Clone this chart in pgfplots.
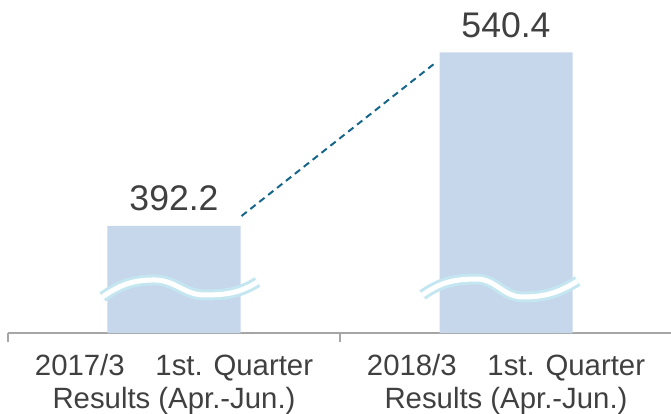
\documentclass[border=0pt]{standalone}
\usepackage{fontspec}
\setmainfont{Liberation Sans}
\usepackage{pgfplots}
\pgfplotsset{compat=1.18}
\definecolor{barblue}{RGB}{198,214,235}
\definecolor{wavecyan}{RGB}{196,230,241}
\definecolor{linkteal}{RGB}{22,102,140}
\definecolor{axisgray}{RGB}{166,166,166}
\definecolor{textgray}{RGB}{64,64,64}
\begin{document}
\begin{tikzpicture}
% page = 671x414 px at 0.75pt per px
\path[use as bounding box] (-6pt,-60.75pt) rectangle (497.25pt,249.75pt);
\begin{axis}[
    scale only axis,
    width=498pt, height=249.75pt,
    xmin=-0.5, xmax=1.5,
    ymin=300.8, ymax=585.2,
    axis x line*=bottom, axis y line=none,
    x axis line style={axisgray, line width=1.2pt},
    xtick={0,1}, ytick=\empty,
    major tick length=0pt,
    minor xtick={-0.5,0.5,1.5},
    minor tick length=6.75pt,
    tick align=outside,
    minor tick style={axisgray, line width=1.2pt},
    xticklabels={{2017/3\hspace{1.05em}1st. Quarter\\Results (Apr.-Jun.)},
                 {2018/3\hspace{1.05em}1st. Quarter\\Results (Apr.-Jun.)}},
    xticklabel style={align=center, anchor=north, inner sep=0pt, yshift=-16pt,
        text=textgray, font=\fontsize{22pt}{24.75pt}\selectfont},
]
\addplot[ybar, bar width=99.75pt, fill=barblue, draw=none,
    nodes near coords,
    nodes near coords style={/pgf/number format/fixed, /pgf/number format/precision=1,
        /pgf/number format/fixed zerofill, /pgf/number format/assume math mode=true},
    every node near coord/.append style={anchor=base, yshift=11.25pt, text=textgray,
        font=\fontsize{26.7pt}{30pt}\selectfont}]
    coordinates {(0,392.2) (1,540.4)};
\addplot[linkteal, line width=1.5pt, dash pattern=on 5pt off 3.5pt]
    coordinates {(0.2033,400.7) (0.7907,532.3)};
% break marks across the bars
\draw[wavecyan, line width=8.25pt] (axis cs:-0.2154,331.6) to[out=35,in=180] (axis cs:-0.0587,346.1)
    to[out=0,in=180] (axis cs:0.0919,333.3) to[out=0,in=212] (axis cs:0.2515,344.4);
\draw[white, line width=3.75pt] (axis cs:-0.2154,331.6) to[out=35,in=180] (axis cs:-0.0587,346.1)
    to[out=0,in=180] (axis cs:0.0919,333.3) to[out=0,in=212] (axis cs:0.2515,344.4);
\draw[wavecyan, line width=8.25pt] (axis cs:0.7485,333.3) to[out=35,in=180] (axis cs:0.9111,346.9)
    to[out=0,in=180] (axis cs:1.0497,331.6) to[out=0,in=212] (axis cs:1.2154,345.2);
\draw[white, line width=3.75pt] (axis cs:0.7485,333.3) to[out=35,in=180] (axis cs:0.9111,346.9)
    to[out=0,in=180] (axis cs:1.0497,331.6) to[out=0,in=212] (axis cs:1.2154,345.2);
\end{axis}
\end{tikzpicture}
\end{document}
